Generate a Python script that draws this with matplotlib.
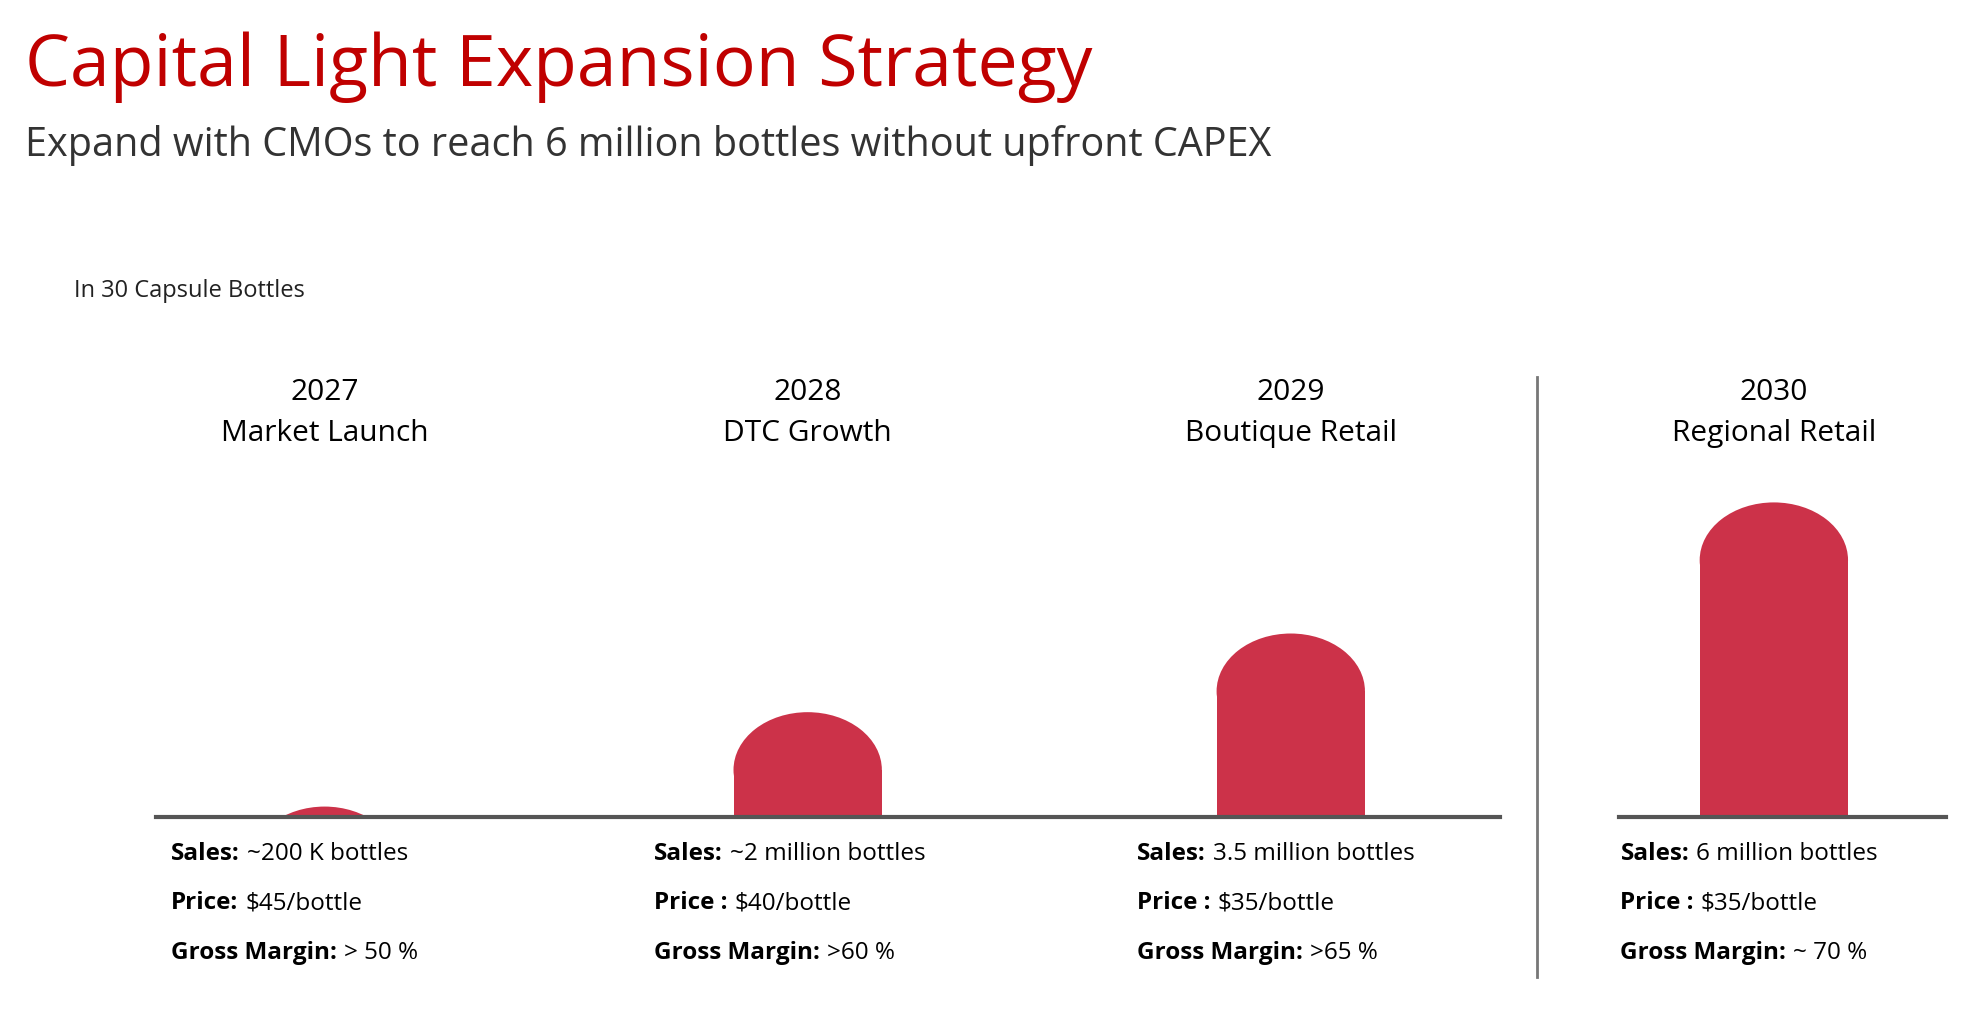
import matplotlib.pyplot as plt
from matplotlib.patches import Rectangle, Ellipse
from matplotlib.lines import Line2D

plt.rcParams['font.family'] = ['Open Sans', 'DejaVu Sans']

years = ['2027', '2028', '2029', '2030']
phases = ['Market Launch', 'DTC Growth', 'Boutique Retail', 'Regional Retail']
sales_m = [0.2, 2, 3.5, 6]  # million bottles
sales_txt = ['~200 K bottles', '~2 million bottles', '3.5 million bottles', '6 million bottles']
price_lbl = ['Price:', 'Price :', 'Price :', 'Price :']
price_txt = ['$45/bottle', '$40/bottle', '$35/bottle', '$35/bottle']
margin_txt = ['> 50 %', '>60 %', '>65 %', '~ 70 %']

red = '#CC3249'
W, H = 1560, 815  # layout reference units

fig = plt.figure(figsize=(19.78, 10.34), dpi=100)
fig.patch.set_facecolor('white')

fig.text(20 / W, 1 - 68 / H, 'Capital Light Expansion Strategy', color='#C00000', fontsize=51.5)
fig.text(20 / W, 1 - 123 / H, 'Expand with CMOs to reach 6 million bottles without upfront CAPEX',
         color='#333333', fontsize=28.5)
fig.text(58 / W, 1 - 229 / H, 'In 30 Capsule Bottles', color='#222222', fontsize=17, va='center')

spacing = 381
x0 = 256
ax = fig.add_axes([0, 1 - 644 / H, 1, 248 / H])
ax.set_xlim(-x0 / spacing, (W - x0) / spacing)
ax.set_ylim(0, 6)
ax.axis('off')

bw = 117 / spacing
cap = 1.1
for i, v in enumerate(sales_m):
    body = max(v - cap, 0)
    if body > 0:
        ax.add_patch(Rectangle((i - bw / 2, 0), bw, body, color=red, lw=0))
    e = Ellipse((i, v - cap), bw, 2 * cap, color=red, lw=0)
    ax.add_patch(e)
    clip = Rectangle((i - bw, 0), 2 * bw, 10, transform=ax.transData, visible=False)
    ax.add_patch(clip)
    e.set_clip_path(clip)

ax.plot([(123 - x0) / spacing, (1183 - x0) / spacing], [0, 0], color='#555555', lw=3, clip_on=False)
ax.plot([(1277 - x0) / spacing, (1535 - x0) / spacing], [0, 0], color='#555555', lw=3, clip_on=False)
fig.add_artist(Line2D([1212 / W, 1212 / W], [1 - 297 / H, 1 - 770 / H], color='#777777', lw=2))

renderer = fig.canvas.get_renderer()


def two_part(x, y, bold, normal):
    t = fig.text(x, y, bold, fontsize=17.5, fontweight='bold', va='center')
    bb = t.get_window_extent(renderer)
    fig.text(x + (bb.width + 7) / fig.bbox.width, y, normal, fontsize=17.5, va='center')


for i in range(4):
    cx = (x0 + i * spacing) / W
    fig.text(cx, 1 - 309 / H, years[i], fontsize=21.5, ha='center', va='center')
    fig.text(cx, 1 - 342 / H, phases[i], fontsize=21.5, ha='center', va='center')
    lx = (x0 + i * spacing - 121) / W
    two_part(lx, 1 - 673 / H, 'Sales:', sales_txt[i])
    two_part(lx, 1 - 712 / H, price_lbl[i], price_txt[i])
    two_part(lx, 1 - 751 / H, 'Gross Margin:', margin_txt[i])

fig.savefig('out.png', dpi=100)
